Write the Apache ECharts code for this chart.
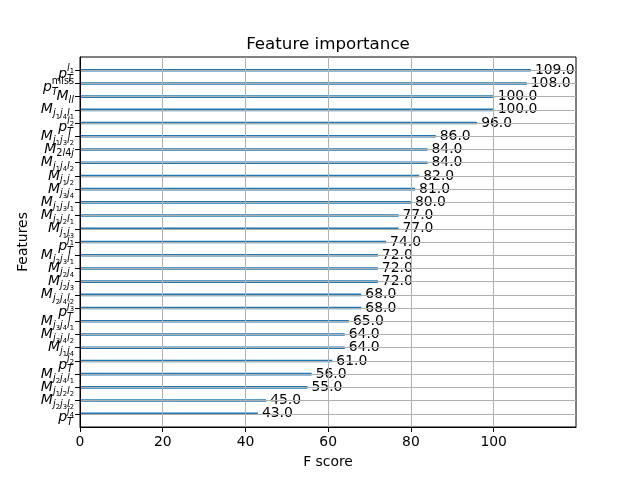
<!DOCTYPE html>
<html>
<head>
<meta charset="utf-8">
<script src="https://cdn.jsdelivr.net/npm/echarts@6/dist/echarts.min.js"></script>
<style>
html, body { margin: 0; padding: 0; background: #fff; }
#chart { width: 640px; height: 480px; }
</style>
</head>
<body>
<div id="chart"></div>
<script>
// feature names, top to bottom (TeX-like, turned into rich text below)
var features = [
  'p_T^{l_1}', 'p_T^{miss}', 'M_{ll}', 'M_{j_1j_4l_1}', 'p_T^{l_2}',
  'M_{j_1j_3l_2}', 'M_{2l4j}', 'M_{j_1j_4l_2}', 'M_{j_1j_2}', 'M_{j_3j_4}',
  'M_{j_1j_3l_1}', 'M_{j_1j_2l_1}', 'M_{j_1j_3}', 'p_T^{j_1}', 'M_{j_2j_3l_1}',
  'M_{j_2j_4}', 'M_{j_2j_3}', 'M_{j_2j_4l_2}', 'p_T^{j_3}', 'M_{j_3j_4l_1}',
  'M_{j_3j_4l_2}', 'M_{j_1j_4}', 'p_T^{j_2}', 'M_{j_2j_4l_1}', 'M_{j_1j_2l_2}',
  'M_{j_2j_3l_2}', 'p_T^{j_4}'
];
var fscores = [109, 108, 100, 100, 96, 86, 84, 84, 82, 81, 80, 77, 77, 74, 72,
  72, 72, 68, 68, 65, 64, 64, 61, 56, 55, 45, 43];
var xTicks = [0, 20, 40, 60, 80, 100];

var font = 'DejaVu Sans';

// vertical shift of a rich token via padding (positive = down), optional left pull
function shift(d, left) {
  var p = d >= 0 ? [2 * d, 0, 0, 0] : [0, 0, -2 * d, 0];
  if (left) p[3] = left;
  return p;
}
function tok(size, italic, d, left) {
  return { fontFamily: font, fontSize: size, fontStyle: italic ? 'italic' : 'normal',
    color: '#000', lineHeight: 14, padding: shift(d, left) };
}
var rich = {
  mb: tok(14, true, 0),
  pb: tok(14, true, 4),
  sa: tok(9.7, true, 4),
  sd: tok(9.7, false, 4),
  s2: tok(6.8, false, 7),
  pt: tok(9.7, true, 9),
  ua: tok(9.7, true, -2),
  ud: tok(9.7, false, -2),
  u2: tok(6.8, false, 1),
  // first superscript token is pulled back over the T subscript
  uaf: tok(9.7, true, -2, -6),
  udf: tok(9.7, false, -2, -6)
};

function group(g, kind, pull) {
  g = g.replace(/[{}]/g, '');
  var plain = !/[\d_]/.test(g) && g.length > 2;
  var s = '';
  for (var i = 0; i < g.length; i++) {
    var c = g[i], name;
    if (c === '_') { c = g[++i]; name = kind + '2'; }
    else name = kind + (/\d/.test(c) || plain ? 'd' : 'a');
    if (pull && i === 0) name += 'f';
    s += '{' + name + '|' + c + '}';
  }
  return s;
}
function richLabel(tex) {
  if (!tex) return '';
  var m = tex.match(/^(\w)(?:_(\w|\{[^}]*\}))?(?:\^(\w|\{[^}]*\}))?$/);
  var out = '{' + (m[1] === 'p' ? 'pb' : 'mb') + '|' + m[1] + '}';
  if (m[2] && m[3]) out += '{pt|' + m[2] + '}' + group(m[3], 'u', true);
  else if (m[2]) out += group(m[2], 's');
  return out;
}

// empty categories at both ends give the -1 .. n range of the original
var cats = [''].concat(features, ['']);
var vals = ['-'].concat(fscores, ['-']);
var inner = function (i) { return i > 0 && i < cats.length - 1; };

var chart = echarts.init(document.getElementById('chart'));
chart.setOption({
  animation: false,
  title: {
    text: 'Feature importance',
    left: 328,
    top: 36,
    textAlign: 'center',
    padding: 0,
    textStyle: { fontFamily: font, fontSize: 16.7, fontWeight: 'normal', color: '#000' }
  },
  grid: {
    left: 80, right: 64, top: 57, bottom: 53,
    show: true, borderColor: '#000', borderWidth: 1, backgroundColor: 'transparent'
  },
  xAxis: {
    type: 'value',
    min: 0,
    max: 119.9,
    interval: 20,
    z: 3,
    name: 'F score',
    nameLocation: 'middle',
    nameGap: 28,
    nameTextStyle: { fontFamily: font, fontSize: 13.9, color: '#000' },
    axisLine: { show: true, lineStyle: { color: '#000', width: 1 } },
    axisTick: { show: true, length: 5, customValues: xTicks, lineStyle: { color: '#000' } },
    axisLabel: { customValues: xTicks, margin: 8, fontFamily: font, fontSize: 13.9, color: '#000' },
    splitLine: { show: true, lineStyle: { color: '#b0b0b0', width: 1 } }
  },
  yAxis: {
    type: 'category',
    data: cats,
    inverse: true,
    boundaryGap: false,
    z: 3,
    name: 'Features',
    nameLocation: 'middle',
    nameGap: 50,
    nameTextStyle: { fontFamily: font, fontSize: 13.9, color: '#000' },
    axisLine: { show: true, lineStyle: { color: '#000', width: 1 } },
    axisTick: { show: true, length: 5, interval: inner, lineStyle: { color: '#000' } },
    axisLabel: { interval: 0, margin: 6, formatter: richLabel, rich: rich },
    splitLine: { show: true, interval: inner, lineStyle: { color: '#b0b0b0', width: 1 } }
  },
  series: [{
    type: 'bar',
    data: vals,
    barWidth: 2.6,
    itemStyle: { color: '#1f77b4' },
    label: {
      show: true,
      position: 'right',
      distance: 4,
      formatter: function (p) { return p.value.toFixed(1); },
      fontFamily: font,
      fontSize: 13.9,
      color: '#000'
    }
  }]
});
</script>
</body>
</html>
